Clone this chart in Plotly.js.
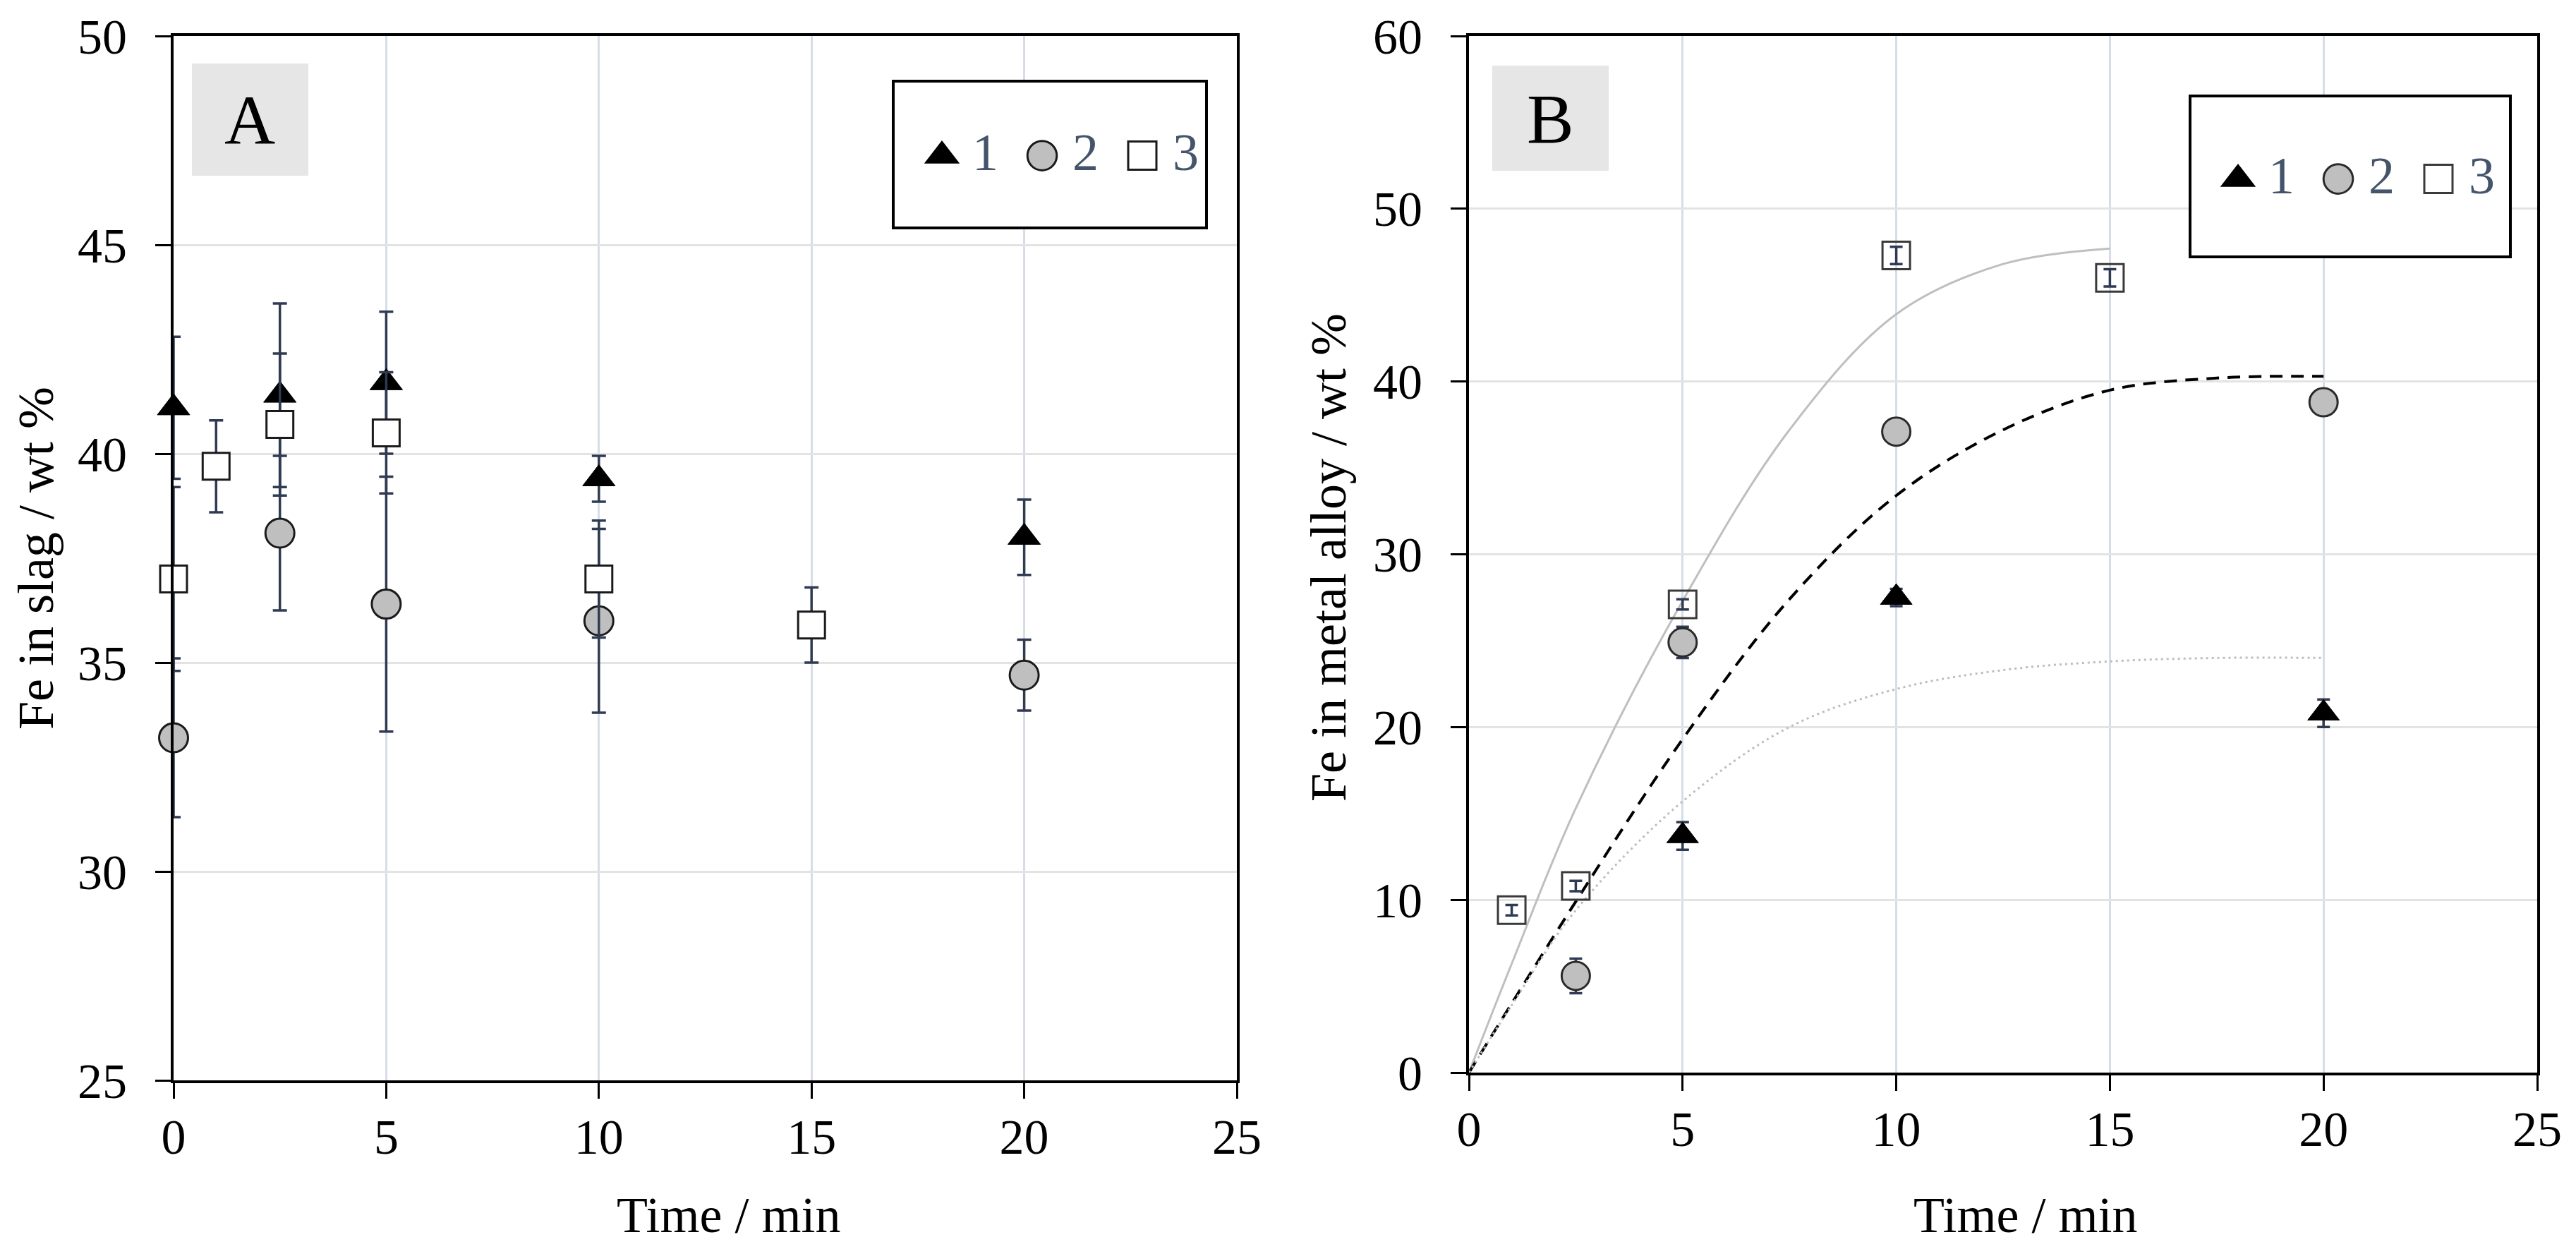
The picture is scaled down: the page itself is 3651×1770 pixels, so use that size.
<!DOCTYPE html>
<html>
<head>
<meta charset="utf-8">
<script src="https://cdn.plot.ly/plotly-3.0.1.min.js"></script>
<style>
  html, body { margin: 0; padding: 0; background: #fff; }
  #chart { width: 3651px; height: 1770px; }
</style>
</head>
<body>
<div id="chart"></div>
<script>
const W = 3651, H = 1770;
const SERIF = 'Liberation Serif, Times New Roman, serif';

// ----- Panel A: Fe in slag -----
const tA1 = [0, 2.5, 5, 10, 20];
const yA1 = [41.1, 41.4, 41.7, 39.4, 38.0];
const eA1 = [1.7, 2.2, 1.7, 0.55, 0.9];

const tA2 = [0, 2.5, 5, 10, 20];
const yA2 = [33.2, 38.1, 36.4, 36.0, 34.7];
const eA2 = [1.9, 1.85, 3.05, 2.2, 0.85];

const tA3 = [0, 1, 2.5, 5, 10, 15];
const yA3 = [37.0, 39.7, 40.7, 40.5, 37.0, 35.9];
const eA3 = [2.2, 1.1, 1.7, 1.45, 1.4, 0.9];

// ----- Panel B: Fe in metal alloy -----
const tB1 = [5, 10, 20];
const yB1 = [13.7, 27.5, 20.8];
const eB1 = [0.8, 0.5, 0.8];

const tB2 = [2.5, 5, 10, 20];
const yB2 = [5.6, 24.9, 37.1, 38.8];
const eB2 = [1.0, 0.9, 0.3, 0.3];

const tB3 = [1, 2.5, 5, 10, 15];
const yB3 = [9.4, 10.8, 27.1, 47.3, 46.0];
const eB3 = [0.3, 0.3, 0.3, 0.5, 0.5];

// trend curves
const tFit3 = [0, 1, 2.5, 5, 7.5, 10, 12.5, 15];
const yFit3 = [0, 6.3, 15.3, 27.3, 37.2, 43.9, 46.8, 47.7];
const tFit2 = [0, 1, 2.5, 5, 7.5, 10, 12.5, 15, 17.5, 20];
const yFit2 = [0, 4.0, 9.9, 19.3, 27.4, 33.4, 37.2, 39.5, 40.2, 40.3];
const tFit1 = [0, 1, 2.5, 5, 7.5, 10, 12.5, 15, 17.5, 20];
const yFit1 = [0, 3.9, 9.4, 15.7, 20.0, 22.2, 23.3, 23.8, 24.0, 24.0];

const seriesNames = ['1', '2', '3'];

const px = (x) => x / W;          // pixel -> paper x
const py = (y) => 1 - y / H;      // pixel -> paper y

function pts(x, y, err, name, marker, xa, ya, leg, capw) {
  return {
    x, y, name, type: 'scatter', mode: 'markers',
    xaxis: xa, yaxis: ya, legend: leg, cliponaxis: false,
    marker,
    error_y: { type: 'data', array: err, visible: true, color: '#2f3b52', thickness: 3.5, width: capw }
  };
}

function curve(x, y, line) {
  return { x, y, type: 'scatter', mode: 'lines', xaxis: 'x2', yaxis: 'y2',
    showlegend: false, hoverinfo: 'skip', line: Object.assign({ shape: 'spline', smoothing: 1 }, line) };
}

const triA = { symbol: 'triangle-up', size: 40, color: '#000', line: { color: '#000', width: 1 } };
const cirA = { symbol: 'circle', size: 41, color: '#bfbfbf', line: { color: '#1a1a1a', width: 3 } };
const sqA = { symbol: 'square', size: 38, color: '#fff', line: { color: '#1a1a1a', width: 3 } };
const triB = { symbol: 'triangle-up', size: 39, color: '#000', line: { color: '#000', width: 1 } };
const cirB = { symbol: 'circle', size: 40, color: '#bfbfbf', line: { color: '#2a2a2a', width: 3 } };
const sqB = { symbol: 'square-open', size: 39, color: '#3a3a3a', line: { color: '#3a3a3a', width: 3 } };

const data = [
  pts(tA1, yA1, eA1, seriesNames[0], triA, 'x', 'y', 'legend', 10),
  pts(tA2, yA2, eA2, seriesNames[1], cirA, 'x', 'y', 'legend', 10),
  pts(tA3, yA3, eA3, seriesNames[2], sqA, 'x', 'y', 'legend', 10),
  curve(tFit3, yFit3, { color: '#bfbfbf', width: 3 }),
  curve(tFit2, yFit2, { color: '#000', width: 4, dash: '18px,12px' }),
  curve(tFit1, yFit1, { color: '#bdbdbd', width: 3, dash: '3px,5px' }),
  pts(tB1, yB1, eB1, seriesNames[0], triB, 'x2', 'y2', 'legend2', 9),
  pts(tB2, yB2, eB2, seriesNames[1], cirB, 'x2', 'y2', 'legend2', 9),
  pts(tB3, yB3, eB3, seriesNames[2], sqB, 'x2', 'y2', 'legend2', 9)
];

const tickFont = { family: SERIF, size: 70, color: '#000' };
const baseAxis = {
  showline: true, linecolor: '#000', linewidth: 4, mirror: true,
  ticks: 'outside', ticklen: 22, tickwidth: 3, tickcolor: '#000',
  tickfont: tickFont, zeroline: false, showgrid: true, automargin: false, fixedrange: true
};
const xAxis = (domain, anchor) => Object.assign({}, baseAxis, {
  domain, anchor, range: [0, 25], tick0: 0, dtick: 5,
  gridcolor: '#d7dde8', gridwidth: 3, ticklabelstandoff: -6
});
const yAxis = (domain, anchor, range, dtick) => Object.assign({}, baseAxis, {
  domain, anchor, range, tick0: 0, dtick,
  gridcolor: '#e3e3e3', gridwidth: 3, ticklabelstandoff: 26
});

const legendStyle = (x, y) => ({
  orientation: 'h', x, y, xanchor: 'left', yanchor: 'middle',
  bgcolor: 'rgba(0,0,0,0)', borderwidth: 0,
  font: { family: SERIF, size: 74, color: '#44546a' },
  itemwidth: 76, entrywidth: 51, tracegroupgap: 0
});

const ann = (text, x, y, size, angle) => ({
  text, x: px(x), y: py(y), xref: 'paper', yref: 'paper', showarrow: false,
  xanchor: 'center', yanchor: 'middle', textangle: angle || 0,
  font: { family: SERIF, size, color: '#000' }
});

const rect = (x0, y0, x1, y1, fill, lw) => ({
  type: 'rect', xref: 'paper', yref: 'paper', layer: 'above',
  x0: px(x0), x1: px(x1), y0: py(y1), y1: py(y0),
  fillcolor: fill, line: { color: '#000', width: lw }
});

const layout = {
  width: W, height: H,
  margin: { l: 0, r: 0, t: 0, b: 0 },
  paper_bgcolor: '#fff', plot_bgcolor: '#fff',
  showlegend: true,
  xaxis: xAxis([px(246), px(1753)], 'y'),
  yaxis: yAxis([py(1531), py(51)], 'x', [25, 50], 5),
  xaxis2: xAxis([px(2082), px(3596)], 'y2'),
  yaxis2: yAxis([py(1520), py(51)], 'x2', [0, 60], 10),
  legend: legendStyle(px(1292), py(213)),
  legend2: legendStyle(px(3129), py(246)),
  shapes: [
    rect(272, 90, 437, 249, '#e6e6e6', 0),
    rect(2115, 93, 2280, 242, '#e6e6e6', 0),
    rect(1266, 115, 1710, 323, '#fff', 4),
    rect(3104, 136, 3558, 364, '#fff', 4)
  ],
  annotations: [
    ann('A', 354, 170, 100),
    ann('B', 2197, 168, 100),
    ann('Fe in slag / wt %', 51, 791, 72, -90),
    ann('Fe in metal alloy / wt %', 1883, 790, 72, -90),
    ann('Time / min', 1032, 1722, 72),
    ann('Time / min', 2870, 1722, 72)
  ]
};

Plotly.newPlot('chart', data, layout, { staticPlot: true, displayModeBar: false }).then(gd => {
  // legend symbols are capped at 16px by plotly; enlarge them to match the data markers
  const scales = [2.4, 2.6, 2.5];
  gd.querySelectorAll('.legend, .legend2').forEach(leg => {
    leg.querySelectorAll('.traces').forEach((tr, i) => {
      tr.querySelectorAll('path.scatterpts').forEach(p => {
        const k = scales[i % 3];
        p.setAttribute('transform', (p.getAttribute('transform') || '') + ' translate(0,8) scale(' + k + ')');
        p.style.strokeWidth = (3 / k) + 'px';
      });
    });
  });
});
</script>
</body>
</html>
